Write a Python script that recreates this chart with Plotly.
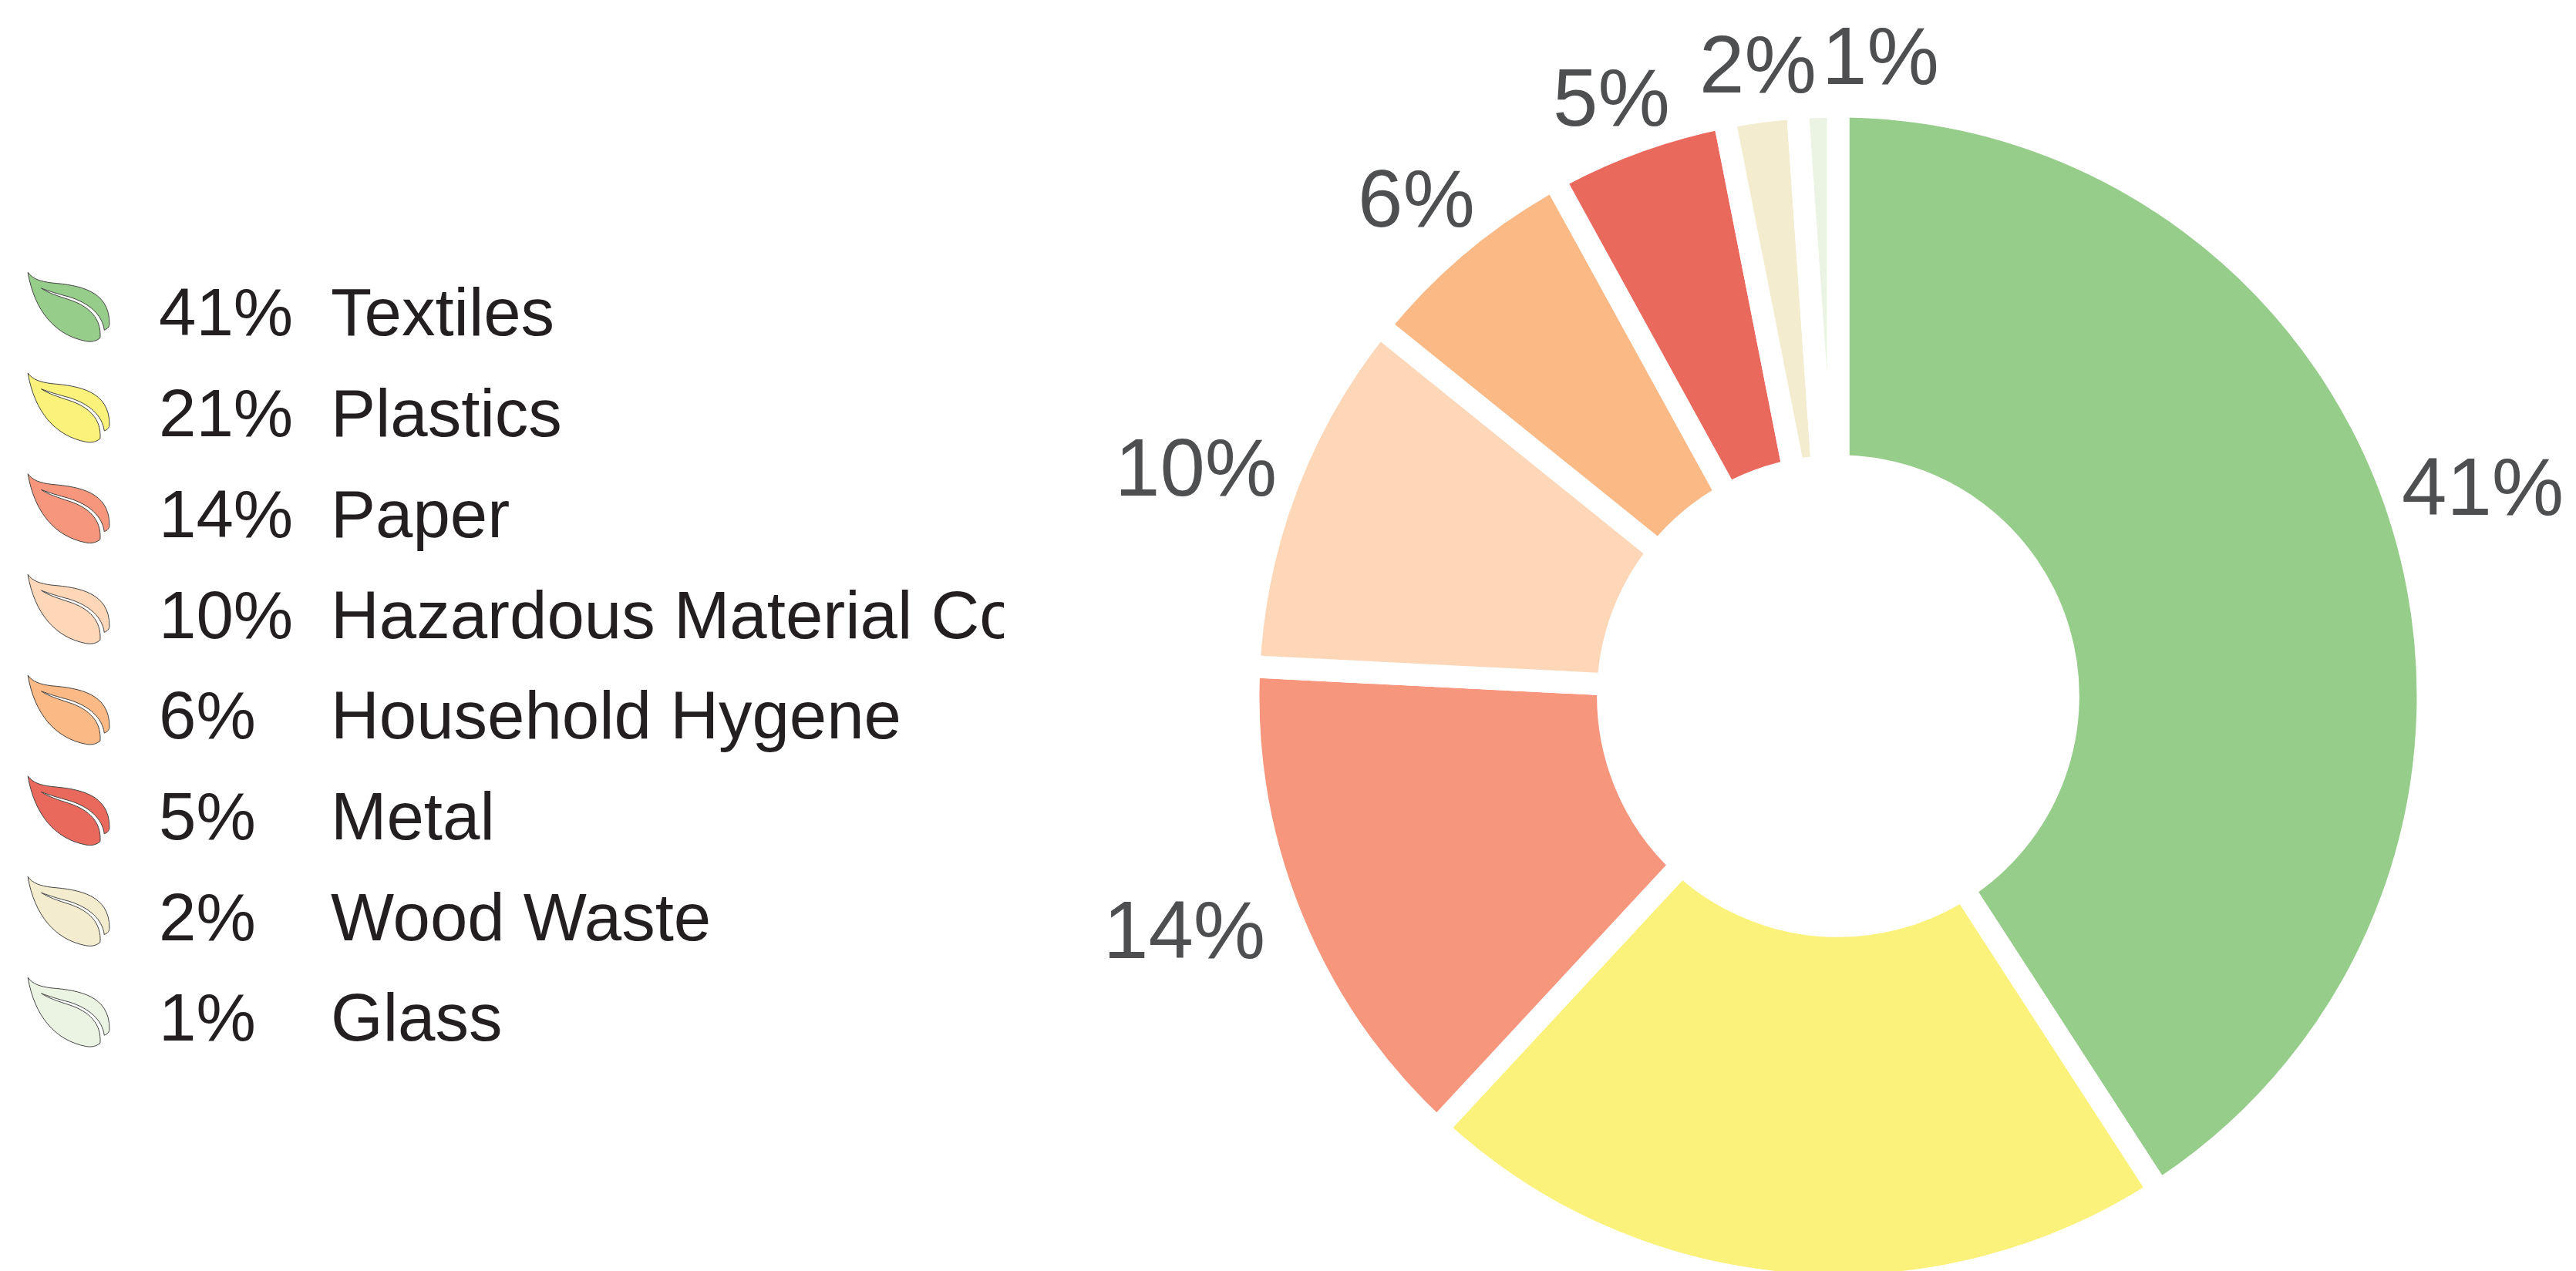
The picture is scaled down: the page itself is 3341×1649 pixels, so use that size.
import plotly.graph_objects as go

categories = ["Textiles", "Plastics", "Paper", "Hazardous Material Co", "Household Hygene", "Metal", "Wood Waste", "Glass"]
values = [40.85, 21.05, 13.9, 10.0, 6.2, 4.9, 2.0, 1.1]
colors = ["#96CD8A", "#FAF27B", "#F6967C", "#FDD7B8", "#FBB985", "#EA695D", "#F3ECCF", "#EBF4E3"]

W, H = 3341, 1684
CX, CY, R = 2384, 903, 765
px = lambda x: x / W
py = lambda y: 1 - y / H

fig = go.Figure(go.Pie(
    labels=categories, values=values, sort=False, direction="clockwise", rotation=0,
    hole=0.39, textinfo="none", showlegend=False,
    marker=dict(colors=colors, line=dict(color="white", width=29)),
    domain=dict(x=[px(CX - R), px(CX + R)], y=[py(CY + R), py(CY - R)]),
))

# Leaf outline, in zoomed-pixel offsets from the tip
SX, SY = 1 / 2.24, 1 / 3
LEAF = [
    ("M", [(81, 100)]),
    ("C", [(95, 125), (115, 135), (150, 141)]),
    ("C", [(230, 150), (318, 170), (318, 300)]),
    ("C", [(318, 312), (312, 320), (303, 325)]),
    ("C", [(297, 265), (260, 220), (200, 195)]),
    ("C", [(170, 185), (140, 172), (120, 162)]),
    ("C", [(140, 180), (170, 193), (200, 206)]),
    ("C", [(260, 232), (295, 280), (291, 355)]),
    ("C", [(280, 368), (265, 372), (250, 368)]),
    ("C", [(160, 345), (100, 250), (81, 100)]),
]

def leaf_path(y_off):
    out = []
    for cmd, pts in LEAF:
        s = " ".join(f"{px(x * SX):.6f},{py(y * SY + y_off):.6f}" for x, y in pts)
        out.append(f"{cmd} {s}")
    return " ".join(out) + " Z"

shapes = []
annotations = []
ROW0, PITCH = 436, 130.7
FONT = "Liberation Sans, Arial, sans-serif"
for i, (c, v, col) in enumerate(zip(categories, values, colors)):
    base = ROW0 + PITCH * i
    shapes.append(dict(type="path", xref="paper", yref="paper", path=leaf_path(base - 116),
                       fillcolor=col, line=dict(color="#444444", width=1)))
    ymid = base - 31
    annotations.append(dict(x=px(205), y=py(ymid), xref="paper", yref="paper", text=f"{round(v)}%", showarrow=False,
                            xanchor="left", yanchor="middle", borderpad=0,
                            font=dict(family=FONT, size=87, color="#231F20")))
    extra = dict(width=873, align="left") if c.startswith("Hazardous") else {}
    annotations.append(dict(x=px(428), y=py(ymid), xref="paper", yref="paper", text=c, showarrow=False,
                            xanchor="left", yanchor="middle", borderpad=0,
                            font=dict(family=FONT, size=87, color="#231F20"), **extra))

# Slice percentage labels (the 21% one falls outside the picture in the reference)
label_pos = {41: (3220, 632), 14: (1536, 1206), 10: (1551, 606), 6: (1837, 258), 5: (2090, 126), 2: (2279.5, 83), 1: (2439, 73)}
for v in values:
    r = round(v)
    if r in label_pos:
        x, y = label_pos[r]
        annotations.append(dict(x=px(x), y=py(y), xref="paper", yref="paper", text=f"{r}%", showarrow=False,
                                xanchor="center", yanchor="middle", borderpad=0,
                                font=dict(family=FONT, size=105, color="#4D4F50")))

fig.update_layout(width=W, height=H, margin=dict(l=0, r=0, t=0, b=0), paper_bgcolor="white",
                  shapes=shapes, annotations=annotations, showlegend=False)

fig.write_html("out.html", config=dict(displayModeBar=False),
               post_script="document.documentElement.style.overflow='hidden';document.body.style.margin='0';document.body.style.overflow='hidden';window.scrollTo(0,0);")
